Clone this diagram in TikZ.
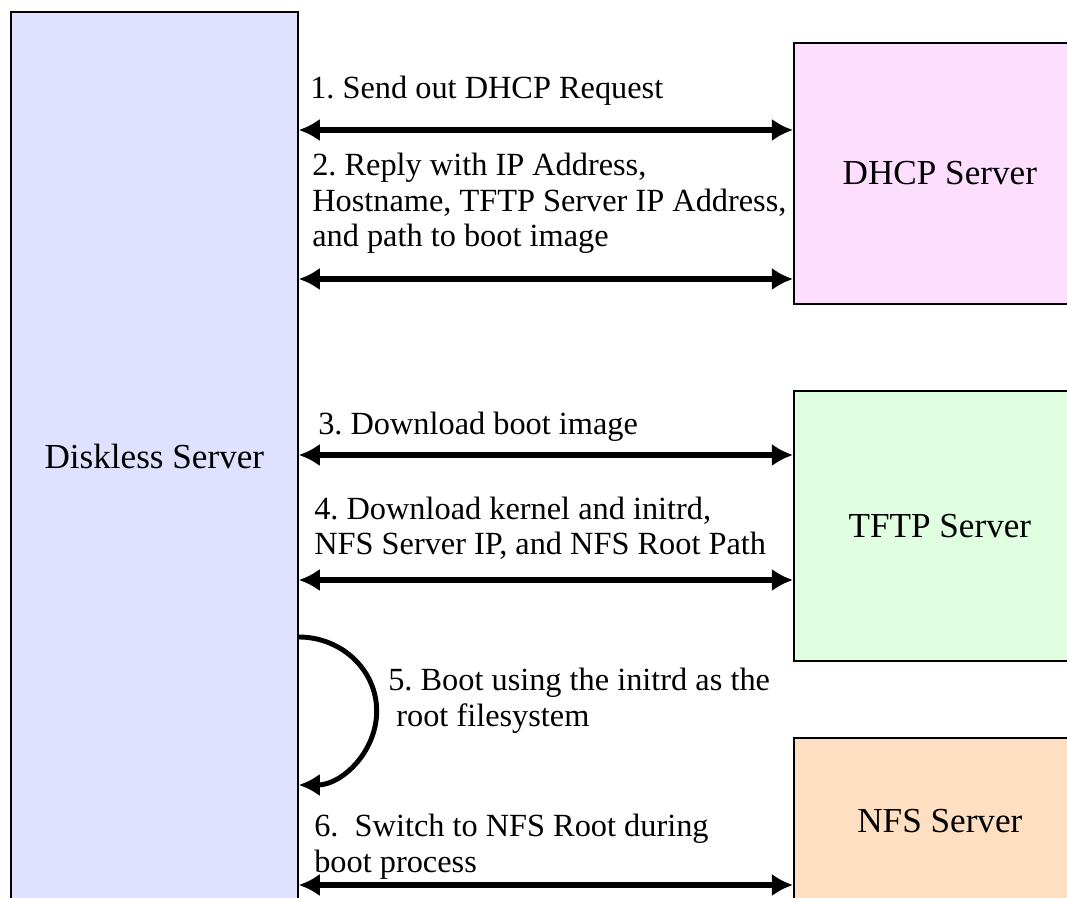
\documentclass[tikz,border=0pt]{standalone}
\usepackage{fontspec}
\setmainfont{Liberation Serif}
\usepackage{xcolor}
\usetikzlibrary{arrows.meta,positioning,calc}
\definecolor{diskblue}{HTML}{E0E0FF}
\definecolor{dhcppink}{HTML}{FEDEFE}
\definecolor{tftpgreen}{HTML}{E0FEE0}
\definecolor{nfsorange}{HTML}{FEDFC2}

\begin{document}
\begin{tikzpicture}[>={Latex[length=15pt,width=16pt]},
  box/.style={draw,line width=1.2pt,inner sep=0pt,font=\fontsize{25}{30}\selectfont},
  msg/.style={align=left,anchor=base west,inner sep=0pt,font=\fontsize{23}{25.6}\selectfont},
  link/.style={<->,line width=3.7pt}]
\clip (0,0) rectangle (26.675,22.425);
\node[box,fill=diskblue,anchor=north west,minimum width=7.175cm,minimum height=22.225cm] (disk) at (0.25,22.15) {Diskless Server};
\node[box,fill=dhcppink,anchor=north west,minimum width=7.3cm,minimum height=6.525cm] (dhcp) at (19.825,21.375) {DHCP Server};
\node[box,fill=tftpgreen,anchor=north west,minimum width=7.3cm,minimum height=6.75cm] (tftp) at (19.825,12.675) {TFTP Server};
\node[box,fill=nfsorange,anchor=north west,minimum width=7.3cm,minimum height=4.15cm] (nfs) at (19.825,4.0) {NFS Server};
\draw[link] (disk.east |- 0,19.175) -- (dhcp.west |- 0,19.175);
\draw[link] (disk.east |- 0,15.45) -- (dhcp.west |- 0,15.45);
\draw[link] (disk.east |- 0,11.05) -- (tftp.west |- 0,11.05);
\draw[link] (disk.east |- 0,7.925) -- (tftp.west |- 0,7.925);
\draw[->,line width=3.5pt] (disk.east |- 0,6.5) arc[start angle=90,end angle=-90,x radius=1.95,y radius=1.85];
\draw[link] (disk.east |- 0,0.3) -- (nfs.west |- 0,0.3);
\node[msg] (m1) at (7.75,19.95) {1.\ Send out DHCP Request};
\node[msg] (m2) at (7.8,16.25) {2.\ Reply with IP Address,\\Hostname, TFTP Server IP Address,\\and path to boot image};
\node[msg] (m3) at (7.95,11.55) {3.\ Download boot image};
\node[msg] (m4) at (7.85,8.55) {4.\ Download kernel and initrd,\\NFS Server IP, and NFS Root Path};
\node[msg] (m5) at (9.7,4.275) {5.\ Boot using the initrd as the\\\ root filesystem};
\node[msg] (m6) at (7.85,0.625) {6.\ \ Switch to NFS Root during\\boot process};
\end{tikzpicture}
\end{document}
